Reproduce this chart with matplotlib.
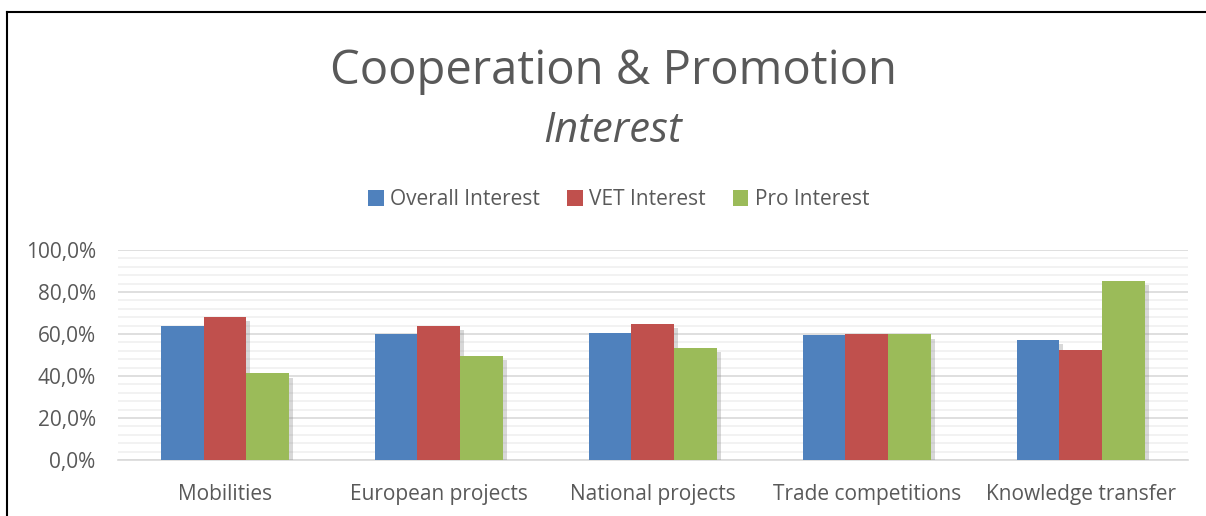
import matplotlib
matplotlib.use("Agg")
import matplotlib.pyplot as plt
import matplotlib.patheffects as pe
from matplotlib.lines import Line2D
from matplotlib.patches import Patch
from matplotlib.ticker import MultipleLocator, FuncFormatter
import numpy as np

categories = ["Mobilities", "European projects", "National projects",
              "Trade competitions", "Knowledge transfer"]
overall = [63.8, 60.2, 60.3, 59.3, 57.0]
vet = [68.3, 64.0, 65.0, 60.2, 52.3]
pro = [41.2, 49.5, 53.2, 59.8, 85.2]
series_names = ["Overall Interest", "VET Interest", "Pro Interest"]
colors = ["#4F81BD", "#C0504D", "#9BBB59"]

plt.rcParams['font.family'] = ['Open Sans', 'DejaVu Sans']
text_col = "#595959"

fig = plt.figure(figsize=(12.06, 5.16), dpi=100)
fig.patch.set_facecolor("white")
ax = fig.add_axes([0.0978, 0.1085, 0.887, 0.407])

x = np.arange(len(categories))
w = 0.2
shadow = [pe.SimplePatchShadow(offset=(3, -3), shadow_rgbFace="#7f7f7f", alpha=0.3), pe.Normal()]
for i, (vals, name, c) in enumerate(zip([overall, vet, pro], series_names, colors)):
    bars = ax.bar(x + (i - 1) * w, vals, w, color=c, zorder=3)
    for b in bars:
        b.set_path_effects(shadow)

ax.set_xlim(-0.5, len(categories) - 0.5)
ax.set_ylim(0, 100)
ax.yaxis.set_major_locator(MultipleLocator(20))
ax.yaxis.set_minor_locator(MultipleLocator(4))
ax.yaxis.set_major_formatter(FuncFormatter(lambda v, p: f"{v:.1f}%".replace(".", ",")))
ax.grid(axis="y", which="major", color="#d9d9d9", linewidth=1.2, zorder=0)
ax.grid(axis="y", which="minor", color="#f0f0f0", linewidth=1.2, zorder=0)
ax.set_axisbelow(True)
for s in ["top", "right", "left"]:
    ax.spines[s].set_visible(False)
ax.spines["bottom"].set_color("#d9d9d9")
ax.spines["bottom"].set_linewidth(1.2)
ax.tick_params(axis="both", which="both", length=0, labelsize=15, labelcolor=text_col)
ax.tick_params(axis="x", pad=17)
ax.tick_params(axis="y", pad=16)
ax.set_xticks(x)
ax.set_xticklabels(categories)

fig.text(0.509, 0.862, "Cooperation & Promotion", ha="center", va="center",
         fontsize=34, color=text_col)
fig.text(0.508, 0.746, "Interest", ha="center", va="center",
         fontsize=30, style="italic", color=text_col)
handles = [Patch(facecolor=c, label=n) for c, n in zip(colors, series_names)]
fig.legend(handles=handles, loc="center", bbox_to_anchor=(0.513, 0.613), ncol=3, frameon=False,
           fontsize=15, labelcolor=text_col, handlelength=0.75, handleheight=0.75,
           handletextpad=0.3, columnspacing=1.3)

# chart frame
fig.add_artist(Line2D([7 / 1206, 7 / 1206], [0, 1 - 12 / 516], transform=fig.transFigure,
                      color="black", linewidth=1.5))
fig.add_artist(Line2D([7 / 1206, 1], [1 - 12 / 516, 1 - 12 / 516], transform=fig.transFigure,
                      color="black", linewidth=1.5))

fig.savefig("out.png", dpi=100)
